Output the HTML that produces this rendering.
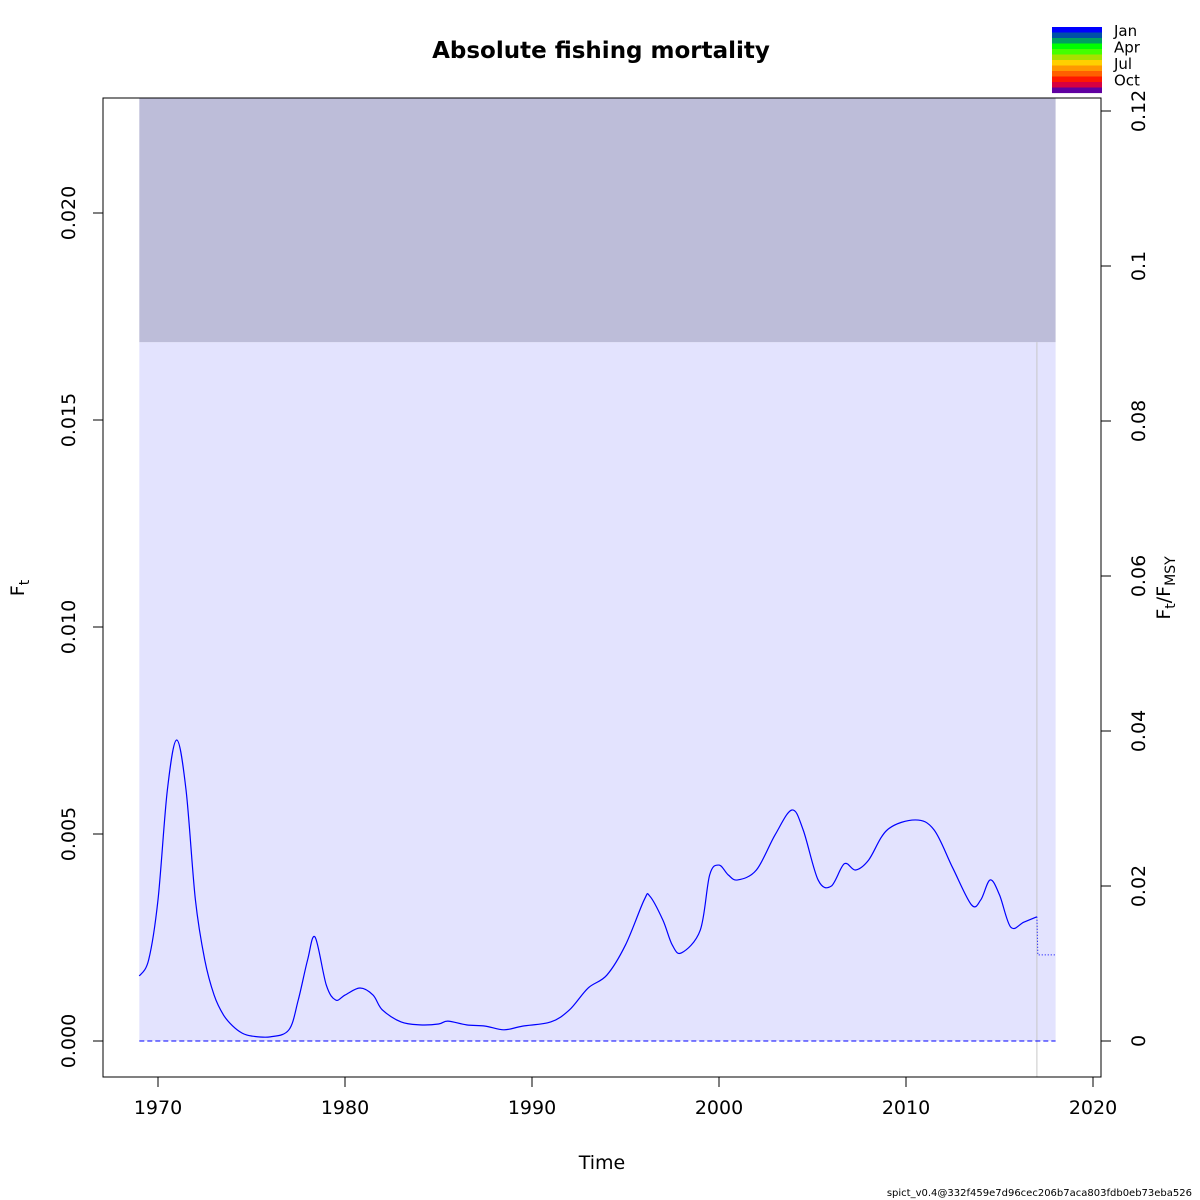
<!DOCTYPE html>
<html><head><meta charset="utf-8"><style>
html,body{margin:0;padding:0;background:#fff;}
svg{display:block;font-family:"DejaVu Sans","Liberation Sans",sans-serif;}
</style></head><body>
<svg id="chart" width="1200" height="1200" viewBox="0 0 1200 1200">
<text x="601" y="58" text-anchor="middle" font-size="23" font-weight="bold">Absolute fishing mortality</text>
<g id="legend"></g>
<g id="plot"></g>
<text x="602" y="1169" text-anchor="middle" font-size="19">Time</text>
<text transform="translate(24,588) rotate(-90)" text-anchor="middle" font-size="19">F<tspan font-size="14" dy="5">t</tspan></text>
<text transform="translate(1170,588) rotate(-90)" text-anchor="middle" font-size="19">F<tspan font-size="14" dy="5">t</tspan><tspan dy="-5">/F</tspan><tspan font-size="14" dy="5">MSY</tspan></text>
<text x="1192" y="1196" text-anchor="end" font-size="10">spict_v0.4@332f459e7d96cec206b7aca803fdb0eb73eba526</text>
</svg>
<script>
const years=[1969,1969.5,1970,1970.5,1971,1971.5,1972,1972.5,1973,1973.5,1974,1974.5,1975,1976,1977,1977.5,1978,1978.4,1979,1979.5,1980,1980.8,1981.5,1982,1983,1984,1985,1985.5,1986.5,1987.5,1988.5,1989.5,1991,1992,1993,1994,1995,1996,1996.3,1997,1997.5,1998,1999,1999.5,2000,2000.5,2001,2002,2003,2003.9,2004.5,2005.3,2006,2006.7,2007.3,2008,2009,2010.5,2011.5,2012.5,2013.5,2014,2014.5,2015,2015.6,2016.3,2017];
const fValues=[0.00157,0.00196,0.00341,0.00606,0.00727,0.00606,0.00341,0.00196,0.00111,0.00063,0.00036,0.00019,0.00012,0.0001,0.00027,0.00099,0.00196,0.00251,0.00135,0.00099,0.00111,0.00128,0.00111,0.00075,0.00046,0.00039,0.00041,0.00048,0.00039,0.00036,0.00027,0.00036,0.00046,0.00075,0.00128,0.00159,0.00232,0.00341,0.0035,0.00292,0.00232,0.00213,0.00268,0.00401,0.00425,0.00401,0.00389,0.00413,0.00498,0.00558,0.0051,0.00389,0.00374,0.00428,0.00413,0.00437,0.0051,0.00534,0.0051,0.00418,0.00329,0.00341,0.00389,0.00353,0.00275,0.00287,0.003];
const predYears=[2017,2017.05,2018];
const predValues=[0.003,0.00208,0.00208];
const xTicks=[1970,1980,1990,2000,2010,2020];
const yTicks=[0,0.005,0.010,0.015,0.020];
const yTickLabels=["0.000","0.005","0.010","0.015","0.020"];
const rTicks=[0,0.02,0.04,0.06,0.08,0.1,0.12];
const rTickLabels=["0","0.02","0.04","0.06","0.08","0.1","0.12"];
const Fmsy=0.1872;
const ciLower=0, ciUpper=0.01688, startYear=1969, endYear=2018, obsEnd=2017;
const legendLabels=["Jan","Apr","Jul","Oct"];
const legendColors=["#0000ff","#0050a8","#00a060","#00ff00","#44ff00","#a8e000","#ffd000","#ff9800","#ff6000","#ff1800","#d80040","#6000a0"];

const NS="http://www.w3.org/2000/svg";
const X0=103,X1=1101,Y0=98,Y1=1077;
const xs=y=>158+(y-1970)*18.7;
const ys=v=>1041-v/0.005*207;
function mk(tag,attrs,parent){const e=document.createElementNS(NS,tag);for(const k in attrs)e.setAttribute(k,attrs[k]);parent.appendChild(e);return e;}
const plot=document.getElementById('plot');
const defs=mk('defs',{},plot);
const cp=mk('clipPath',{id:'clip'},defs);
mk('rect',{x:X0,y:Y0,width:X1-X0,height:Y1-Y0},cp);
const inner=mk('g',{'clip-path':'url(#clip)'},plot);
let r=mk('rect',{x:xs(startYear),y:ys(ciUpper),width:xs(endYear)-xs(startYear),height:ys(ciLower)-ys(ciUpper),fill:'#e3e3fe'},inner);


r=mk('rect',{x:xs(startYear),y:Y0,width:xs(endYear)-xs(startYear),height:ys(ciUpper)-Y0,fill:'#bdbdd9'},inner);


let l=mk('line',{x1:xs(obsEnd),x2:xs(obsEnd),y1:ys(ciUpper),y2:Y1,stroke:'#c8c8c8','stroke-width':1},plot);


l=mk('line',{x1:xs(startYear),x2:xs(endYear),y1:ys(0),y2:ys(0),stroke:'#0000ff','stroke-width':1,'stroke-dasharray':'5,3'},plot);


// smooth path
const pts=years.map((y,i)=>[xs(y),ys(fValues[i])]);
let d='M'+pts[0][0]+','+pts[0][1];
for(let i=0;i<pts.length-1;i++){const p0=pts[Math.max(0,i-1)],p1=pts[i],p2=pts[i+1],p3=pts[Math.min(pts.length-1,i+2)];
d+=' C'+(p1[0]+(p2[0]-p0[0])/6)+','+(p1[1]+(p2[1]-p0[1])/6)+' '+(p2[0]-(p3[0]-p1[0])/6)+','+(p2[1]-(p3[1]-p1[1])/6)+' '+p2[0]+','+p2[1];}
let p=mk('path',{d:d,fill:'none',stroke:'#0000ff','stroke-width':1.2},plot);


p=mk('polyline',{points:predYears.map((y,i)=>xs(y)+','+ys(predValues[i])).join(' '),fill:'none',stroke:'#0000ff','stroke-width':1,'stroke-dasharray':'1,2'},plot);


r=mk('rect',{x:X0,y:Y0,width:X1-X0,height:Y1-Y0,fill:'none',stroke:'#000','stroke-width':1},plot);


xTicks.forEach(t=>{const x=xs(t);
 const tl=mk('line',{x1:x,x2:x,y1:Y1,y2:Y1+10,stroke:'#000'},plot);
 
 
 const tx=mk('text',{x:x,y:Y1+37,'text-anchor':'middle','font-size':19},plot);tx.textContent=t;
 
 });
yTicks.forEach((t,i)=>{const y=ys(t);
 const tl=mk('line',{x1:X0-10,x2:X0,y1:y,y2:y,stroke:'#000'},plot);
 
 
 const tx=mk('text',{transform:'translate(75,'+y+') rotate(-90)','text-anchor':'middle','font-size':19},plot);tx.textContent=yTickLabels[i];
 
 });
rTicks.forEach((t,i)=>{const y=ys(t*Fmsy);
 const tl=mk('line',{x1:X1,x2:X1+10,y1:y,y2:y,stroke:'#000'},plot);
 
 
 const tx=mk('text',{transform:'translate(1145,'+y+') rotate(-90)','text-anchor':'middle','font-size':19},plot);tx.textContent=rTickLabels[i];
 
 });
const lg=document.getElementById('legend');
legendColors.forEach((c,i)=>{const e=mk('rect',{x:1052,y:27+i*5.5,width:50,height:5.6,fill:c},lg);
 
 });
legendLabels.forEach((s,i)=>{const e=mk('text',{x:1114,y:36+i*16.5,'font-size':15},lg);e.textContent=s;
 
 });
</script>
</body></html>
